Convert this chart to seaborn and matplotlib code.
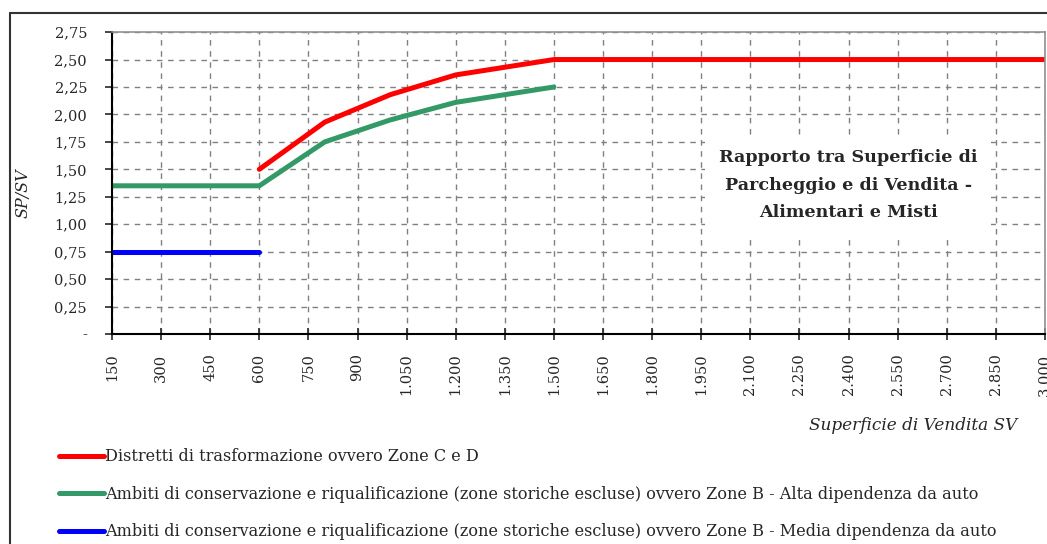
import pandas as pd
import matplotlib.pyplot as plt
import seaborn as sns
from matplotlib.lines import Line2D
from matplotlib.ticker import FixedLocator, FuncFormatter

# ── Data ──────────────────────────────────────────────────────
red_x = [600, 800, 1000, 1200, 1500, 3000]
red_y = [1.50, 1.93, 2.18, 2.36, 2.50, 2.50]

green_x = [150, 600, 800, 1000, 1200, 1500]
green_y = [1.35, 1.35, 1.75, 1.95, 2.11, 2.25]

blue_x = [150, 600]
blue_y = [0.75, 0.75]

labels = [
    "Distretti di trasformazione ovvero Zone C e D",
    "Ambiti di conservazione e riqualificazione (zone storiche escluse) ovvero Zone B - Alta dipendenza da auto",
    "Ambiti di conservazione e riqualificazione (zone storiche escluse) ovvero Zone B - Media dipendenza da auto",
]
colors = ["#FF0000", "#339966", "#0000FF"]

x_ticks = list(range(150, 3001, 150))
y_ticks = [0, 0.25, 0.5, 0.75, 1.0, 1.25, 1.5, 1.75, 2.0, 2.25, 2.5, 2.75]

df = pd.concat([
    pd.DataFrame({"SV": red_x, "SP/SV": red_y, "serie": labels[0]}),
    pd.DataFrame({"SV": green_x, "SP/SV": green_y, "serie": labels[1]}),
    pd.DataFrame({"SV": blue_x, "SP/SV": blue_y, "serie": labels[2]}),
])

# ── Style ─────────────────────────────────────────────────────
sns.set_style("white")
plt.rcParams["font.family"] = ["DejaVu Serif"]

fig = plt.figure(figsize=(10.47, 5.44), dpi=100)
ax = fig.add_axes([0.107, 0.386, 0.891, 0.555])

sns.lineplot(
    data=df, x="SV", y="SP/SV", hue="serie",
    palette=dict(zip(labels, colors)), sort=False,
    linewidth=3.6, legend=False, ax=ax
)

ax.set_xlim(150, 3000)
ax.set_ylim(0, 2.75)
ax.xaxis.set_major_locator(FixedLocator(x_ticks))
ax.yaxis.set_major_locator(FixedLocator(y_ticks))
ax.xaxis.set_major_formatter(FuncFormatter(lambda v, p: f"{int(v):,}".replace(",", ".")))
ax.yaxis.set_major_formatter(
    FuncFormatter(lambda v, p: "-" if abs(v) < 1e-9 else f"{v:.2f}".replace(".", ","))
)
ax.tick_params(axis="x", direction="inout", length=8, width=1.2, labelsize=10.5,
               labelrotation=90, pad=10, bottom=True)
ax.tick_params(axis="y", direction="out", length=5, width=1.2, labelsize=10.5,
               pad=13, left=True)

ax.grid(True, color="#808080", linestyle=(0, (4, 4)), linewidth=1)
ax.set_axisbelow(True)

for side in ["left", "bottom"]:
    ax.spines[side].set_color("black")
    ax.spines[side].set_linewidth(1.5)
for side in ["top", "right"]:
    ax.spines[side].set_color("#909090")
    ax.spines[side].set_linewidth(1.2)

ax.set_xlabel("")
ax.set_ylabel("")
fig.text(0.022, 0.645, "SP/SV", rotation=90, style="italic", fontsize=11.5,
         ha="center", va="center")
fig.text(0.972, 0.218, "Superficie di Vendita SV", style="italic", fontsize=12.2,
         ha="right", va="center")

ax.text(0.789, 0.493,
        "Rapporto tra Superficie di\nParcheggio e di Vendita -\nAlimentari e Misti",
        transform=ax.transAxes, ha="center", va="center", fontsize=12.6,
        fontweight="bold", linespacing=1.8,
        bbox=dict(facecolor="white", edgecolor="none", pad=10))

# Legend under the plot
handles = [Line2D([0], [0], color=c, linewidth=3.6) for c in colors]
fig.legend(handles, labels, loc="upper left", bbox_to_anchor=(0.050, 0.188),
           frameon=False, fontsize=11.6, handlelength=2.8, handletextpad=0.05,
           labelspacing=1.28, borderaxespad=0)

# Chart border
fig.add_artist(Line2D([0.0096, 0.0096], [0, 0.976], color="#333333", linewidth=1.5,
                      transform=fig.transFigure))
fig.add_artist(Line2D([0.0096, 1.0], [0.976, 0.976], color="#333333", linewidth=1.5,
                      transform=fig.transFigure))

plt.savefig("out.png", dpi=100)
